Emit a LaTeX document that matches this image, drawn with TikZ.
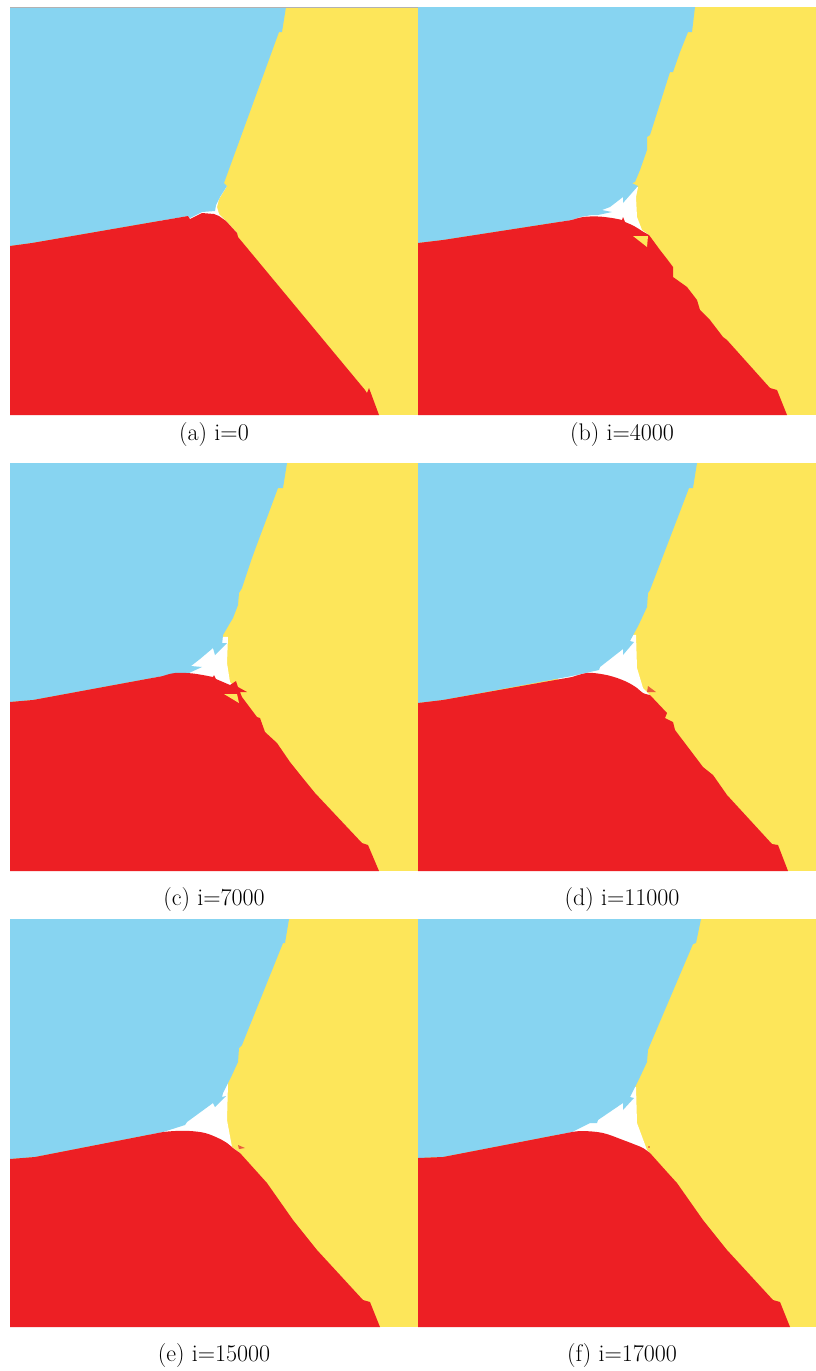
\documentclass[tikz,border=0pt]{standalone}
\definecolor{cblue}{RGB}{135,212,241}
\definecolor{cyellow}{RGB}{253,230,90}
\definecolor{cred}{RGB}{237,31,36}
\definecolor{corange}{RGB}{234,92,60}
\tikzset{
  yel/.style={fill=cyellow},
  blu/.style={fill=cblue},
  rd/.style={fill=cred},
  gap/.style={fill=white},
  org/.style={fill=corange},
  captext/.style={font=\fontsize{24}{28}\selectfont, inner sep=0pt}
}
\begin{document}
\begin{tikzpicture}[x=1pt,y=-1pt]
\useasboundingbox[fill=white] (0,0) rectangle (816,1371);
% ---------------- (a)
\begin{scope}[shift={(10,7)}]
\fill[yel] (0,0) rectangle (408,408);
\fill[gap] (217,179) -- (209,192) -- (207,200) -- (209,207) -- (216,214) -- (227,226) -- (150,226) -- (150,175) -- cycle;
\fill[blu] (0,0) -- (276,0) -- (272,25) -- (269,25) -- (214,176) -- (217,179) -- (210,190) -- (206,198) -- (205,204) -- (192,205) -- (180,211) -- (178,209) -- (22,236) -- (0,239) -- cycle;
\fill[rd] (0,239) -- (22,236) -- (178,209) -- (180,212) -- (192,206) -- (204,207) -- (209,209) -- (216,214) -- (227,226) -- (228,230) -- (355,383) -- (357,386) -- (359,381) -- (369,408) -- (0,408) -- cycle;
\draw[gray!60, line width=0.4pt] (0,0) -- (408,0);
\end{scope}
% ---------------- (b)
\begin{scope}[shift={(418,7)}]
\fill[yel] (0,0) rectangle (398,408);
\fill[gap] (220,180) -- (218,190) -- (219,210) -- (224,223) -- (231,228) -- (140,228) -- (140,175) -- cycle;
\fill[blu] (0,0) -- (277,0) -- (274,25) -- (270,25) -- plot[smooth, tension=0.5] coordinates {(262,45) (255,65)} -- (252,65) -- (232,128) -- (229,130) -- (229,143) -- (222,163) -- (217,175) -- (214,176) -- (220,179) -- (205,196) -- (205,190) -- (192,200) -- (184,203) -- (194,205) -- (180,208) -- (174,208) -- (162,210) -- (154,213) -- (25,233) -- (0,236) -- cycle;
\fill[rd] (0,236) -- (25,233) -- plot[smooth, tension=0.6] coordinates {(154,213) (165,210) (180,209.5) (194,211) (204,213)} -- (205,210) -- plot[smooth, tension=0.6] coordinates {(207,215) (216,219) (224,224) (231,228)} -- (242,243) -- (249,252) -- (255,260) -- (255,270) -- (269,280) -- (279,293) -- (282,303) -- (292,313) -- (305,330) -- (309,333) -- (352,381) -- (359,383) -- (369,408) -- (0,408) -- cycle;
\fill[yel] (215,229) -- (230,229) -- (229,240) -- cycle;
\end{scope}
\node[captext] (la) at (214,435) {(a) i=0};
\node[captext] (lb) at (622,435) {(b) i=4000};
% ---------------- (c)
\begin{scope}[shift={(10,463)}]
\fill[yel] (0,0) rectangle (408,408);
\fill[gap] (218,174) -- (217,200) -- (220,219) -- (228,227) -- (140,227) -- (140,170) -- cycle;
\fill[blu] (0,0) -- (277,0) -- (273,25) -- (268,25) -- plot[smooth, tension=0.5] coordinates {(255,60) (242,95) (232,125)} -- (229,130) -- (228,142) -- (223,155) -- (220,160) -- (213,172) -- (212,182) -- (208,180) -- (217,180) -- (205,192) -- (203,185) -- (190,196) -- (181,203) -- (192,204) -- (179,210) -- (153,213) -- (23,237) -- (0,239) -- cycle;
\fill[rd] (0,239) -- (23,237) -- plot[smooth, tension=0.6] coordinates {(153,213) (165,210) (183,210.5) (203,214)} -- (204,212) -- (206,216) -- (220,222) -- (226,218) -- (228,224) -- (237,229) -- (230,229) -- (232,234) -- (247,254) -- (250,255) -- (255,269) -- (267,280) -- (280,299) -- (292,314) -- (305,330) -- (352,380) -- (358,382) -- (369,408) -- (0,408) -- cycle;
\fill[yel] (214,231) -- (227,231) -- (229,240) -- cycle;
\end{scope}
% ---------------- (d)
\begin{scope}[shift={(418,463)}]
\fill[yel] (0,0) rectangle (398,408);
\fill[gap] (218,172) -- (219,205) -- (225,225) -- (232,232) -- (140,232) -- (140,168) -- cycle;
\fill[blu] (0,0) -- (279,0) -- (275,25) -- (271,25) -- (232,127) -- (230,130) -- (229,144) -- (222,159) -- (219,165) -- (212,178) -- (216,179) -- (205,192) -- (205,186) -- (182,204) -- (181,207) -- (172,209) -- (154,213) -- (25,237) -- (0,240) -- cycle;
\fill[rd] (0,240) -- (25,237) -- plot[smooth, tension=0.6] coordinates {(154,214) (169,210) (183,211) (196,214) (209,219) (219,225) (225,230) (232,232)} -- (249,250) -- (247,255) -- (255,259) -- (257,267) -- (285,304) -- (295,312) -- (309,332) -- (354,381) -- (360,382) -- (370,408) -- (0,408) -- cycle;
\fill[org] (230,223) -- (238,229) -- (229,229) -- cycle;
\end{scope}
\node[captext] (lc) at (214,899) {(c) i=7000};
\node[captext] (ld) at (622,899) {(d) i=11000};
% ---------------- (e)
\begin{scope}[shift={(10,919)}]
\fill[yel] (0,0) rectangle (408,408);
\fill[gap] (218,164) -- (217,201) -- (222,228) -- (230,234) -- (140,234) -- (140,160) -- cycle;
\fill[blu] (0,0) -- (279,0) -- (275,24) -- (273,24) -- (232,126) -- (229,129) -- (228,143) -- (222,156) -- (213,174) -- (212,178) -- (216,177) -- (205,188) -- (203,184) -- (177,203) -- (175,206) -- (153,213) -- (25,238) -- (0,240) -- cycle;
\fill[rd] (0,240) -- (25,238) -- plot[smooth, tension=0.6] coordinates {(153,213) (165,212) (180,212) (195,214) (208,219) (217,224) (223,229) (230,234)} -- (248,254) -- (257,264) -- (283,301) -- (307,331) -- (353,381) -- (360,383) -- (370,408) -- (0,408) -- cycle;
\fill[org] (228,226) -- (235,229) -- (229,230) -- cycle;
\end{scope}
% ---------------- (f)
\begin{scope}[shift={(418,919)}]
\fill[yel] (0,0) rectangle (398,408);
\fill[gap] (218,168) -- (219,204) -- (229,231) -- (232,234) -- (140,234) -- (140,160) -- cycle;
\fill[blu] (0,0) -- (283,0) -- (278,24) -- (275,25) -- (232,126) -- (230,131) -- (229,143) -- (222,158) -- (219,164) -- (212,178) -- (216,179) -- (205,191) -- (205,184) -- (180,201) -- (179,204) -- (172,204) -- (154,213) -- (25,238) -- (0,239) -- cycle;
\fill[rd] (0,239) -- (25,238) -- plot[smooth, tension=0.6] coordinates {(154,213) (165,212) (185,214) (205,221) (218,226) (225,229) (232,234)} -- (249,253) -- (259,264) -- (285,301) -- (309,331) -- (355,381) -- (362,383) -- (372,408) -- (0,408) -- cycle;
\fill[rd] (231,228) circle (0.9);
\end{scope}
\node[captext] (le) at (214,1355) {(e) i=15000};
\node[captext] (lf) at (622,1355) {(f) i=17000};
\end{tikzpicture}
\end{document}
